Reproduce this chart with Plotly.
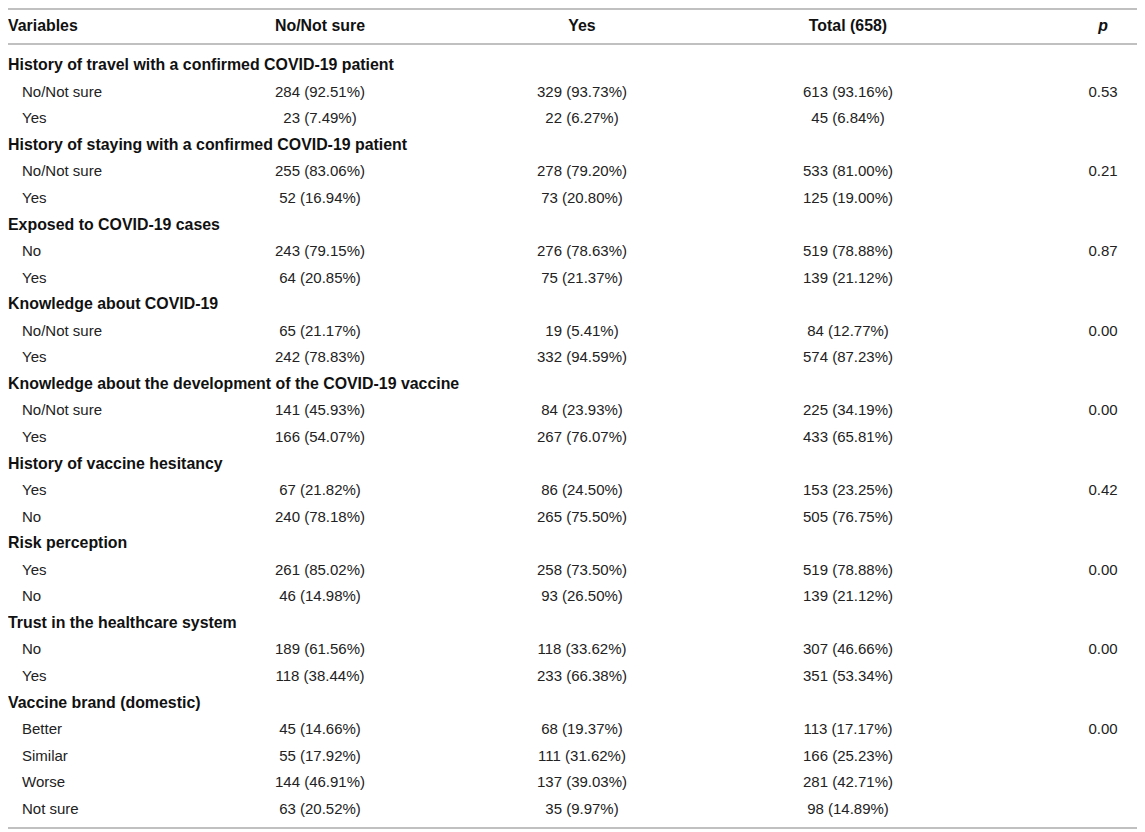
import plotly.graph_objects as go

# table contents
headers = ["Variables", "No/Not sure", "Yes", "Total (658)", "p"]

sections = [
    "History of travel with a confirmed COVID-19 patient",
    "History of staying with a confirmed COVID-19 patient",
    "Exposed to COVID-19 cases",
    "Knowledge about COVID-19",
    "Knowledge about the development of the COVID-19 vaccine",
    "History of vaccine hesitancy",
    "Risk perception",
    "Trust in the healthcare system",
    "Vaccine brand (domestic)",
]
levels = [
    ["No/Not sure", "Yes"],
    ["No/Not sure", "Yes"],
    ["No", "Yes"],
    ["No/Not sure", "Yes"],
    ["No/Not sure", "Yes"],
    ["Yes", "No"],
    ["Yes", "No"],
    ["No", "Yes"],
    ["Better", "Similar", "Worse", "Not sure"],
]
no_n = [[284, 23], [255, 52], [243, 64], [65, 242], [141, 166],
        [67, 240], [261, 46], [189, 118], [45, 55, 144, 63]]
no_pct = [[92.51, 7.49], [83.06, 16.94], [79.15, 20.85], [21.17, 78.83], [45.93, 54.07],
          [21.82, 78.18], [85.02, 14.98], [61.56, 38.44], [14.66, 17.92, 46.91, 20.52]]
yes_n = [[329, 22], [278, 73], [276, 75], [19, 332], [84, 267],
         [86, 265], [258, 93], [118, 233], [68, 111, 137, 35]]
yes_pct = [[93.73, 6.27], [79.20, 20.80], [78.63, 21.37], [5.41, 94.59], [23.93, 76.07],
           [24.50, 75.50], [73.50, 26.50], [33.62, 66.38], [19.37, 31.62, 39.03, 9.97]]
tot_n = [[613, 45], [533, 125], [519, 139], [84, 574], [225, 433],
         [153, 505], [519, 139], [307, 351], [113, 166, 281, 98]]
tot_pct = [[93.16, 6.84], [81.00, 19.00], [78.88, 21.12], [12.77, 87.23], [34.19, 65.81],
           [23.25, 76.75], [78.88, 21.12], [46.66, 53.34], [17.17, 25.23, 42.71, 14.89]]
p_values = [0.53, 0.21, 0.87, 0.00, 0.00, 0.42, 0.00, 0.00, 0.00]

# layout geometry (pixels, page has an 8px body margin)
W, H = 1145, 832
off = 8
col_x = [8 - off, 320 - off, 582 - off, 848 - off, 1103 - off]
indent_x = 22 - off
header_y = 27 - off
first_y = 66.5 - off
step = 26.55

title_y, title_txt = [], []
lab_y, lab_txt, c1, c2, c3, p_txt = [], [], [], [], [], []
row = 0
for s, name in enumerate(sections):
    title_y.append(first_y + row * step)
    title_txt.append("<b>%s</b>" % name)
    row += 1
    for k, lev in enumerate(levels[s]):
        lab_y.append(first_y + row * step)
        lab_txt.append(lev)
        c1.append("%d (%.2f%%)" % (no_n[s][k], no_pct[s][k]))
        c2.append("%d (%.2f%%)" % (yes_n[s][k], yes_pct[s][k]))
        c3.append("%d (%.2f%%)" % (tot_n[s][k], tot_pct[s][k]))
        p_txt.append("%.2f" % p_values[s] if k == 0 else "")
        row += 1

fam = "Liberation Sans, Arial, sans-serif"
font = dict(family=fam, size=15, color="#222222")
bold = dict(family=fam, size=15.9, color="#111111")

fig = go.Figure()
# header
fig.add_trace(go.Scatter(x=[col_x[0]], y=[header_y], text=["<b>%s</b>" % headers[0]],
                         mode="text", textposition="middle right", textfont=bold))
fig.add_trace(go.Scatter(x=col_x[1:4], y=[header_y] * 3,
                         text=["<b>%s</b>" % h for h in headers[1:4]],
                         mode="text", textposition="middle center", textfont=bold))
fig.add_trace(go.Scatter(x=[col_x[4]], y=[header_y], text=["<b><i>%s</i></b>" % headers[4]],
                         mode="text", textposition="middle center", textfont=bold))
# section titles
fig.add_trace(go.Scatter(x=[col_x[0]] * len(title_y), y=title_y, text=title_txt,
                         mode="text", textposition="middle right", textfont=bold))
# level labels
fig.add_trace(go.Scatter(x=[indent_x] * len(lab_y), y=lab_y, text=lab_txt,
                         mode="text", textposition="middle right", textfont=font))
for cx, col in zip(col_x[1:], [c1, c2, c3, p_txt]):
    fig.add_trace(go.Scatter(x=[cx] * len(lab_y), y=lab_y, text=col,
                             mode="text", textposition="middle center", textfont=font))

# rules
for yy in [1, 44 - off, 828 - off]:
    fig.add_shape(type="line", x0=0, x1=W, y0=yy, y1=yy, xref="x", yref="y",
                  line=dict(color="#c0c0c0", width=2))

fig.update_layout(
    width=W, height=H,
    margin=dict(l=0, r=0, t=0, b=0),
    paper_bgcolor="white", plot_bgcolor="white",
    showlegend=False,
    xaxis=dict(range=[0, W], visible=False, fixedrange=True),
    yaxis=dict(range=[H, 0], visible=False, fixedrange=True),
    hovermode=False,
)

fig.write_html("out.html")
